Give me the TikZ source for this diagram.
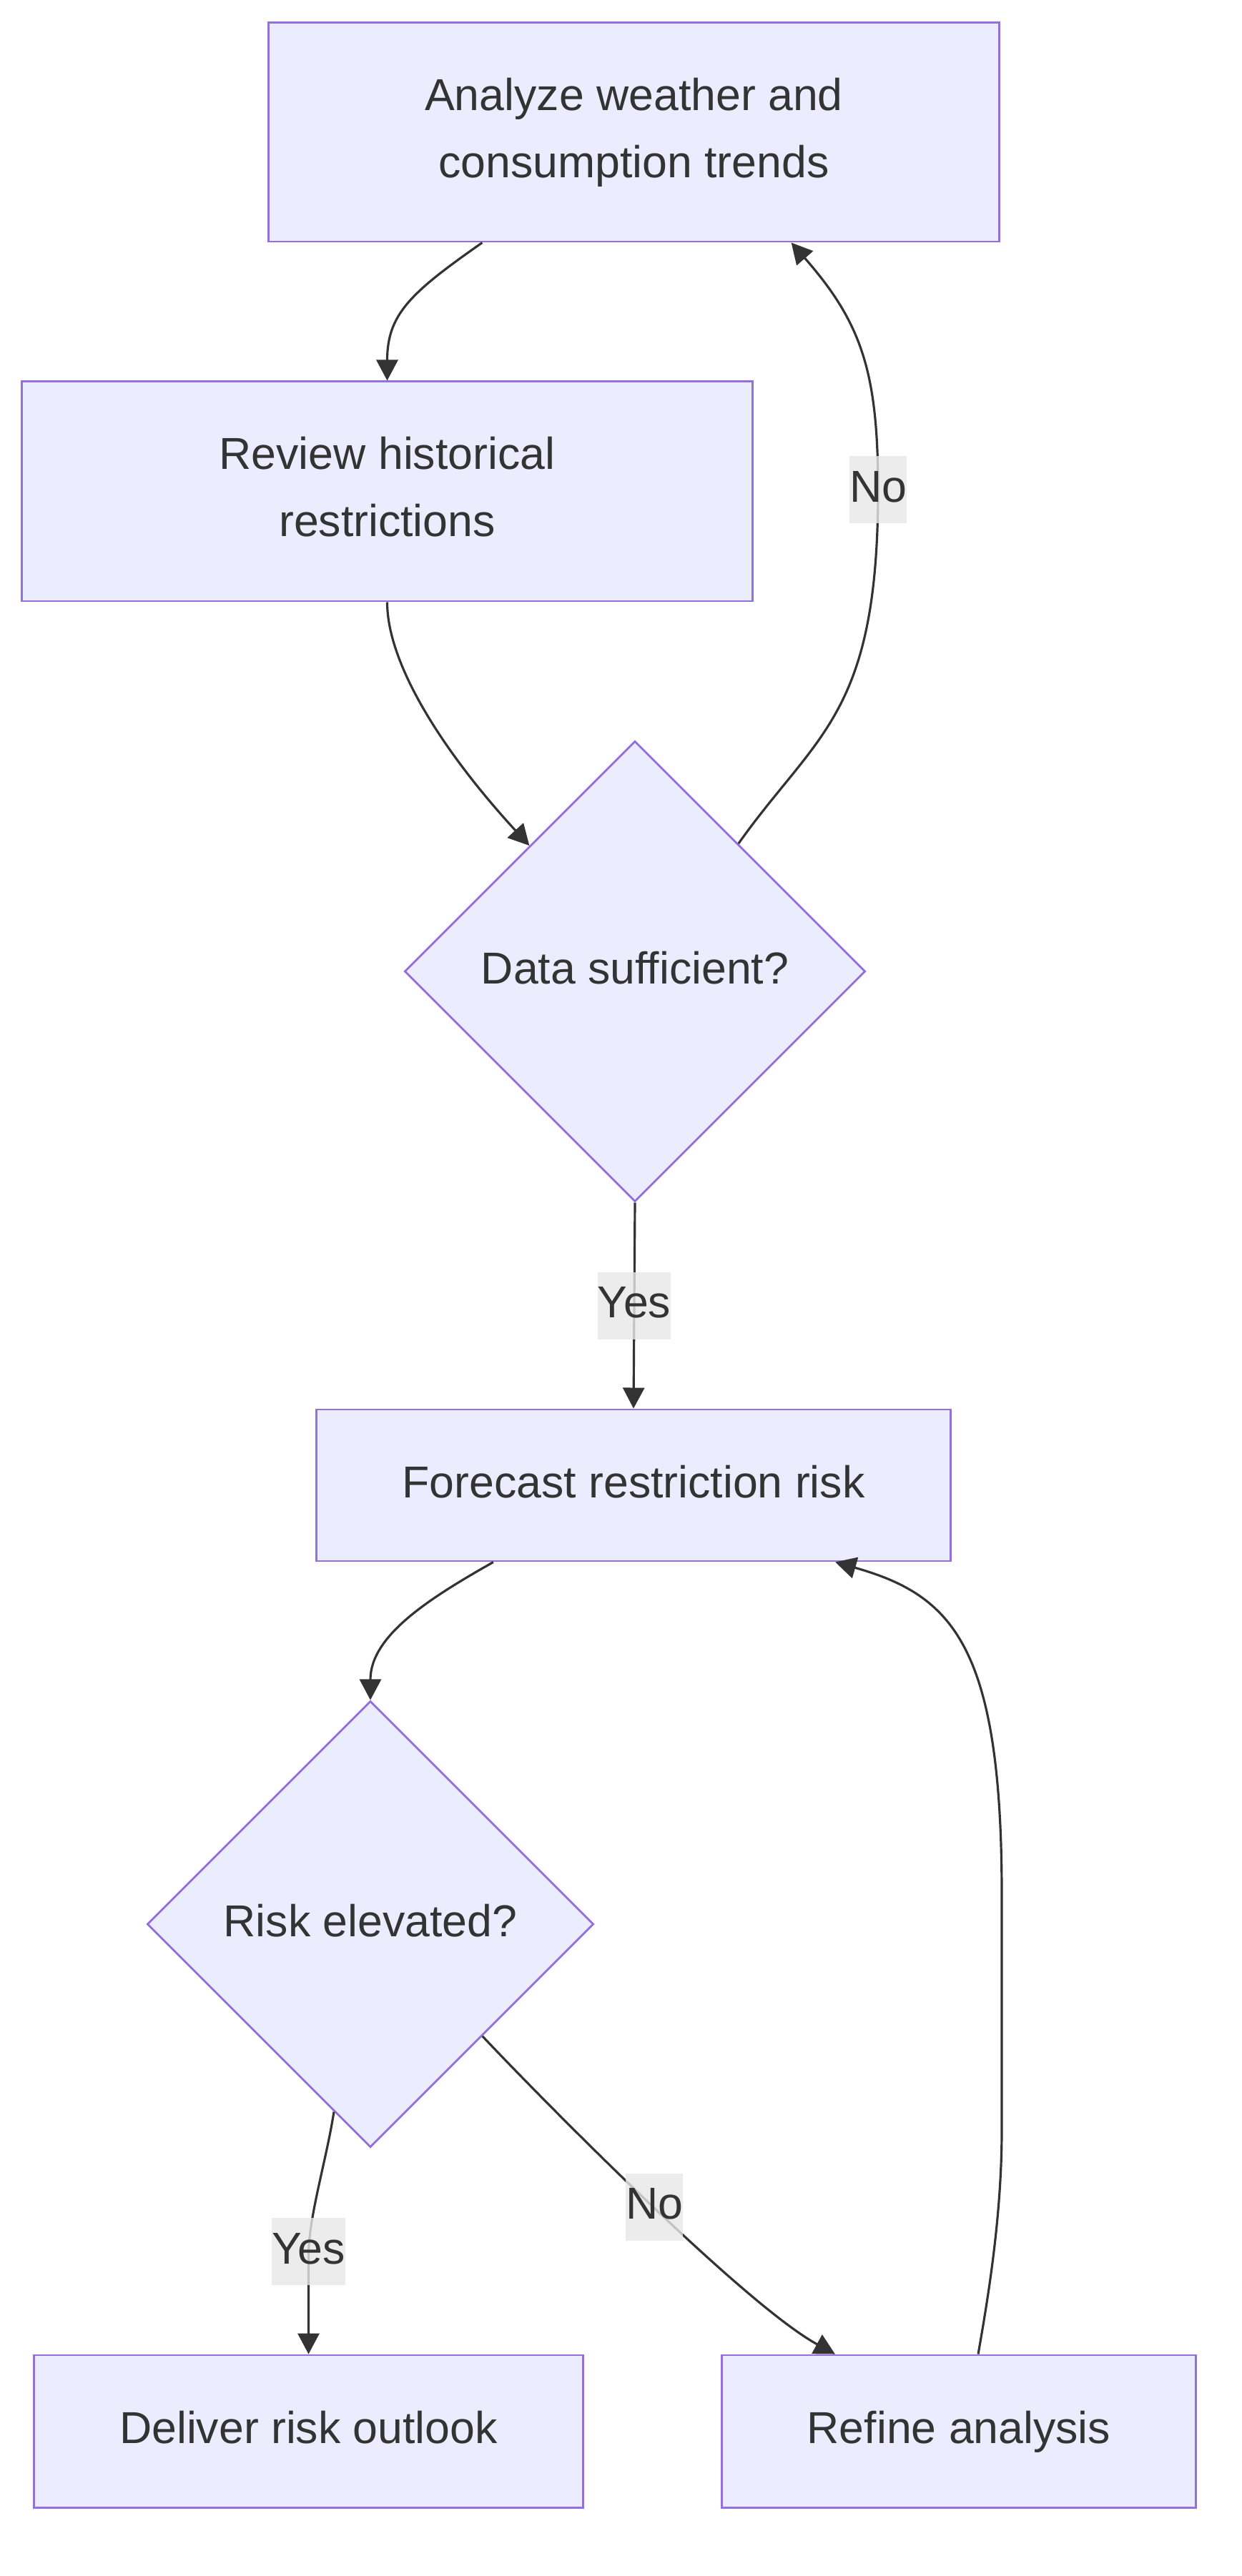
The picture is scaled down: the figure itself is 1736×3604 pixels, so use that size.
\documentclass[tikz,border=0pt]{standalone}
\usepackage{fontspec}
\setmainfont{Liberation Sans}
\usetikzlibrary{shapes.geometric, arrows.meta}
\definecolor{nodefill}{HTML}{ECECFF}
\definecolor{nodeborder}{HTML}{9370DB}
\definecolor{textgray}{HTML}{333333}
\definecolor{linegray}{HTML}{333333}
\definecolor{labelgray}{HTML}{E8E8E8}

\begin{document}
\begin{tikzpicture}[x=0.01cm, y=-0.01cm,
    every node/.style={font=\fontsize{17.8}{26.7}\selectfont, text=textgray},
    box/.style={draw=nodeborder, fill=nodefill, line width=0.8pt, align=center, inner sep=0pt},
    oneline/.style={text height=13.4pt, text depth=3.7pt},
    decision/.style={box, oneline, diamond, aspect=1, minimum width=#1, minimum height=#1},
    flow/.style={draw=linegray, line width=0.9pt, -{Triangle[length=0.29cm, width=0.3cm]}},
    lbl/.style={oneline, fill=labelgray, fill opacity=0.8, text opacity=1, inner xsep=0pt, inner ysep=0pt, minimum height=0.94cm}]
        % Fundo
        \fill[white] (0,0) rectangle (1736,3604);
        \useasboundingbox (0,0) rectangle (1736,3604);
        % Caixas
        \node[box, minimum width=10.21cm, minimum height=3.06cm] (analyze) at (886.5,185) {Analyze weather and\\consumption trends\vphantom{y}};
        \node[box, minimum width=10.21cm, minimum height=3.07cm] (review) at (541.5,687.5) {Review historical\\restrictions\vphantom{y}};
        \node[decision=6.44cm] (sufficient) at (888,1359) {Data sufficient?};
        \node[box, oneline, minimum width=8.86cm, minimum height=2.12cm] (forecast) at (886,2078) {Forecast restriction risk};
        \node[decision=6.24cm] (elevated) at (518,2692) {Risk elevated?};
        \node[box, oneline, minimum width=7.67cm, minimum height=2.13cm] (deliver) at (431.5,3401.5) {Deliver risk outlook};
        \node[box, oneline, minimum width=6.62cm, minimum height=2.13cm] (refine) at (1341,3401.5) {Refine analysis};
        % Setas
        \draw[flow] ([xshift=-2.12cm]analyze.south) .. controls +(-100,70) and +(0,-93) .. (review.north);
        \draw[flow] (review.south) .. controls +(0,90) and +(-115,-125) .. (sufficient.130);
        \draw[flow] (sufficient.51) .. controls +(110,-155) and +(0,315) .. (1228,685) node[lbl] {No}
            .. controls +(0,-165) and +(98,112) .. ([xshift=2.2cm]analyze.south);
        \draw[flow] (sufficient.south) -- node[lbl] {Yes} (forecast.north);
        \draw[flow] ([xshift=-1.96cm]forecast.south) .. controls +(-90,51) and +(0,-90) .. (elevated.north);
        \draw[flow] (elevated.-101) .. controls +(-10,65) and +(2,-55) .. (431.5,3150) node[lbl] {Yes} -- (deliver.north);
        \draw[flow] (elevated.-45) .. controls +(80,85) and +(-128,-70) .. node[lbl, pos=0.52] {No} ([xshift=-1.73cm]refine.north);
        \draw[flow] ([xshift=0.27cm]refine.north) .. controls +(14,-80) and +(0,120) .. (1401,2980) -- (1401,2650)
            .. controls +(0,-350) and +(162,46) .. ([xshift=2.82cm]forecast.south);
\end{tikzpicture}
\end{document}
